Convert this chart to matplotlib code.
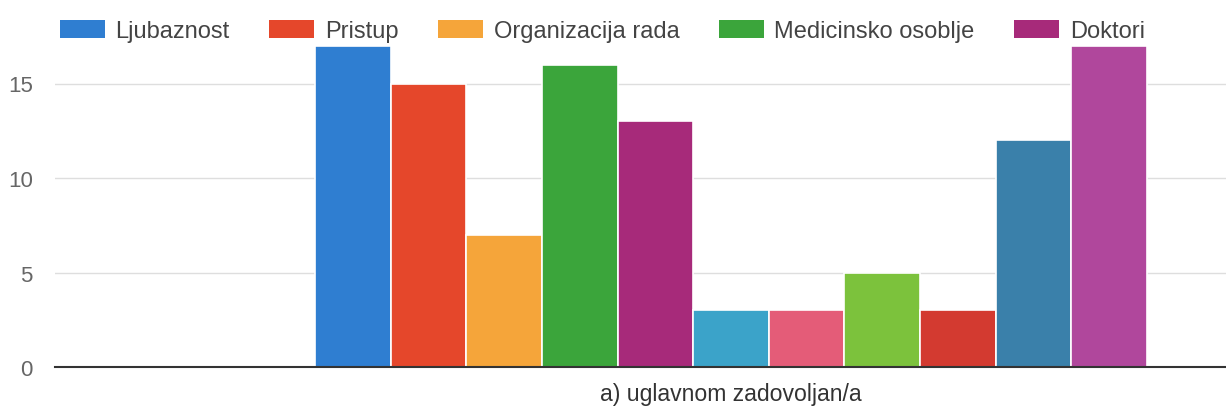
import matplotlib
matplotlib.use("Agg")
import matplotlib.pyplot as plt
from matplotlib.patches import Patch

plt.rcParams['font.family'] = ['Liberation Sans', 'DejaVu Sans']

category = "a) uglavnom zadovoljan/a"
legend_names = ["Ljubaznost", "Pristup", "Organizacija rada", "Medicinsko osoblje", "Doktori"]
values = [17, 15, 7, 16, 13, 3, 3, 5, 3, 12, 17]
colors = ["#2f7ed1", "#e5472b", "#f5a53a", "#3ba53b", "#a72a7a", "#3ba3c9",
          "#e45c78", "#7cc23c", "#d33a30", "#3a80aa", "#b0479c"]
yticks = [0, 5, 10, 15]

W, H = 1226, 410
fig = plt.figure(figsize=(W / 100, H / 100), dpi=100)
base_px = 368
unit_px = 18.9
ax = fig.add_axes([55 / W, (H - base_px) / H, 1 - 55 / W, base_px / H])

n = len(values)
bar_px = 75.6
positions = [i - (n - 1) / 2 for i in range(n)]
ax.bar(positions, values, width=1.0, color=colors, edgecolor="white", linewidth=1.2, zorder=3)

left_lim = -n / 2 - (315 - 55) / bar_px
right_lim = n / 2 + (1226 - 1147) / bar_px
ax.set_xlim(left_lim, right_lim)
ax.set_ylim(0, base_px / unit_px)

ax.set_yticks(yticks)
ax.set_yticklabels([str(v) for v in yticks])
ax.set_xticks([0])
ax.set_xticklabels([category])
ax.tick_params(axis="y", length=0, pad=16, labelsize=16, labelcolor="#666666")
ax.tick_params(axis="x", length=0, pad=11, labelsize=16.6, labelcolor="#333333")
ax.grid(axis="y", color="#dedede", linewidth=1.0, zorder=0)
ax.set_axisbelow(True)
for s in ["left", "right", "top"]:
    ax.spines[s].set_visible(False)
ax.spines["bottom"].set_color("#333333")
ax.spines["bottom"].set_linewidth(1.5)
ax.spines["bottom"].set_zorder(4)

handles = [Patch(facecolor=c, edgecolor="none") for c in colors[:len(legend_names)]]
leg = fig.legend(handles, legend_names, loc="center left",
                 bbox_to_anchor=(60 / W, 1 - 32 / H), ncol=5, frameon=False,
                 fontsize=17, handlelength=1.9, handleheight=0.8,
                 handletextpad=0.45, columnspacing=1.68, borderpad=0, borderaxespad=0)
for t in leg.get_texts():
    t.set_color("#444444")

fig.savefig("out.png", dpi=100)
